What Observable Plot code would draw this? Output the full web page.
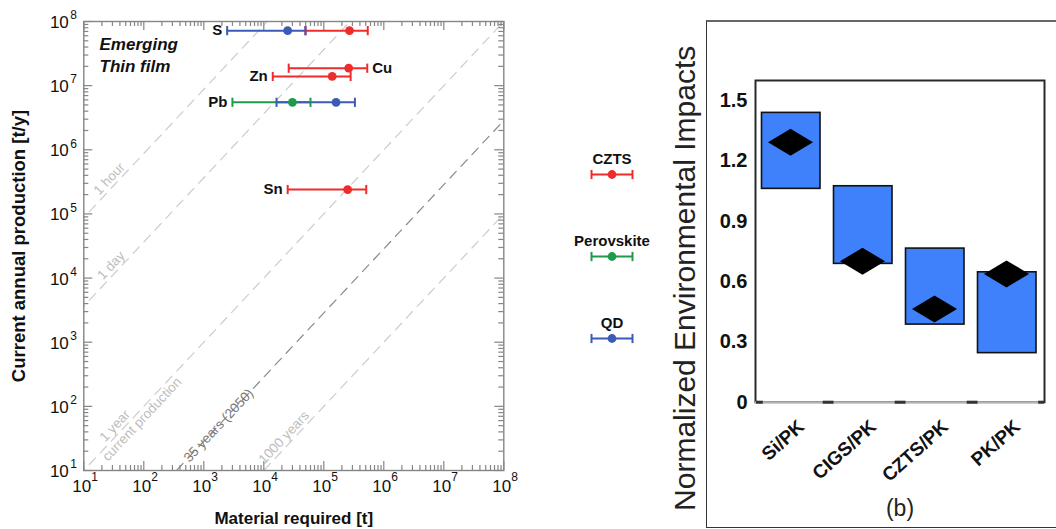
<!DOCTYPE html>
<html><head><meta charset="utf-8">
<script src="https://cdn.jsdelivr.net/npm/d3@7"></script>
<script src="https://cdn.jsdelivr.net/npm/@observablehq/plot@0.6"></script>
<style>
html,body{margin:0;padding:0;background:#fff;}
#wrap{position:relative;width:1056px;height:529px;overflow:hidden;background:#fff;font-family:"Liberation Sans",Arial,sans-serif;}
#left,#legend,#right{position:absolute;}
#left{left:0;top:0;width:540px;height:529px;}
#legend{left:562px;top:130px;width:100px;height:250px;}
#right{left:660px;top:0;width:396px;height:529px;}
#outer{position:absolute;left:706px;top:20px;width:400px;height:505px;border-left:1.5px solid #333;border-top:2px solid #666;border-bottom:1.5px solid #333;}
#right g[aria-label="ytick"] text{letter-spacing:3.5px;}
svg{overflow:visible;max-width:none !important;}
</style></head><body>
<div id="wrap"><div id="outer"></div><div id="left"></div><div id="legend"></div><div id="right"></div></div>
<script>
// ---------- Data: left panel ----------
const techs = ["CZTS", "Perovskite", "QD"];
const techColors = ["#ee2c2c", "#1f9a4b", "#3b5bb6"];

const barElement    = ["Pb", "S", "Pb", "S", "Cu", "Zn", "Sn"];
const barTech       = ["Perovskite", "QD", "QD", "CZTS", "CZTS", "CZTS", "CZTS"];
const barProduction = [5.5e6, 7.2e7, 5.5e6, 7.2e7, 1.87e7, 1.39e7, 2.4e5];
const barLow        = [3.0e3, 2.45e3, 1.63e4, 4.95e4, 2.6e4, 1.41e4, 2.5e4];
const barMid        = [3.0e4, 2.5e4, 1.6e5, 2.68e5, 2.6e5, 1.38e5, 2.5e5];
const barHigh       = [6.0e4, 4.95e4, 3.3e5, 5.4e5, 5.3e5, 2.8e5, 5.1e5];

const labelElement = ["S", "Cu", "Zn", "Pb", "Sn"];

const periodLabel = ["1 hour", "1 day", "1 year", "35 years (2050)", "1000 years"];
const periodYears = [1 / 8760, 1 / 365, 1, 35, 1000];

const guideText   = ["1 hour", "1 day", "1 year", "current production", "35 years (2050)", "1000 years"];
const guidePeriod = [1 / 8760, 1 / 365, 1, 1, 35, 1000];
const guideAt     = [20, 23, 25, 18.2, 1760, 11200];

const decadeExp = [1, 2, 3, 4, 5, 6, 7, 8];

// ---------- Data: right panel ----------
const pairs = ["Si/PK", "CIGS/PK", "CZTS/PK", "PK/PK"];
const boxLow = [1.061, 0.688, 0.386, 0.244];
const boxHigh = [1.439, 1.074, 0.764, 0.646];
const diamondValue = [1.293, 0.701, 0.464, 0.638];
const yTicks = [0, 0.3, 0.6, 0.9, 1.2, 1.5];
const yTickLabels = ["0", "0.3", "0.6", "0.9", "1.2", "1.5"];

// ---------- Build ----------
const font = '"Liberation Sans", Arial, Helvetica, sans-serif';
const bars = barElement.map((el, i) => ({el, tech: barTech[i], prod: barProduction[i], lo: barLow[i], mid: barMid[i], hi: barHigh[i]}));
const labels = labelElement.map(el => {
  const rows = bars.filter(b => b.el === el);
  return {el, prod: rows[0].prod, lo: d3.min(rows, r => r.lo), hi: d3.max(rows, r => r.hi)};
});
const rightSide = new Set(["Cu"]);
const majorTicks = decadeExp.map(e => 10 ** e);
const minorTicks = decadeExp.slice(0, -1).flatMap(e => [2,3,4,5,6,7,8,9].map(m => m * 10 ** e));
const guideLines = periodLabel.flatMap((lab, i) => [
  {lab, x: 1, y: 1 / periodYears[i]},
  {lab, x: 1e9, y: 1e9 / periodYears[i]}
]);
const guides = guideText.map((t, i) => ({t, x: guideAt[i], y: guideAt[i] / guidePeriod[i]}));

const capSymbol = {draw(ctx, size) { const r = Math.sqrt(size / Math.PI); ctx.moveTo(0, -r); ctx.lineTo(0, r); }};
const flatDiamond = {draw(ctx, size) { const r = Math.sqrt(size / Math.PI); const h = r * 0.6; ctx.moveTo(-r, 0); ctx.lineTo(0, -h); ctx.lineTo(r, 0); ctx.lineTo(0, h); ctx.closePath(); }};

const W = 540, H = 529, mL = 83.3, mR = 36.7, mT = 21, mB = 59;
const pw = W - mL - mR, ph = H - mT - mB;
const frameCol = "#858585";
const ang = -46.9;
const light = "#cccccc", dark = "#8a8a8a";

const left = Plot.plot({
  width: W, height: H, marginLeft: mL, marginRight: mR, marginTop: mT, marginBottom: mB,
  style: {background: "transparent", fontFamily: font, color: "#111"},
  x: {type: "log", domain: [10, 1e8], axis: null},
  y: {type: "log", domain: [10, 1e8], axis: null},
  color: {domain: techs, range: techColors},
  marks: [
    // guide lines
    Plot.line(guideLines.filter(d => d.lab !== "35 years (2050)"), {x: "x", y: "y", z: "lab", stroke: light, strokeWidth: 1.2, strokeDasharray: "9,7", clip: true}),
    Plot.line(guideLines.filter(d => d.lab === "35 years (2050)"), {x: "x", y: "y", z: "lab", stroke: dark, strokeWidth: 1.2, strokeDasharray: "9,7", clip: true}),
    Plot.text(guides.filter(d => ["1 hour", "1 day", "1 year", "1000 years"].includes(d.t)), {x: "x", y: "y", text: "t", rotate: ang, textAnchor: "start", lineAnchor: "bottom", dx: -2.5, dy: -2.5, fill: "#bdbdbd", fontSize: 13.5}),
    Plot.text(guides.filter(d => d.t === "current production"), {x: "x", y: "y", text: "t", rotate: ang, textAnchor: "start", lineAnchor: "top", dx: 1.5, dy: 1.5, fill: "#bdbdbd", fontSize: 13.5}),
    Plot.text(guides.filter(d => d.t === "35 years (2050)"), {x: "x", y: "y", text: "t", rotate: ang, textAnchor: "middle", lineAnchor: "middle", fill: "#7a7a7a", fontSize: 13.5}),
    // frame and ticks
    Plot.frame({stroke: frameCol, strokeWidth: 1.4}),
    Plot.tickX(majorTicks, {x: d => d, insetTop: ph - 9, stroke: frameCol, strokeWidth: 1.2}),
    Plot.tickX(majorTicks, {x: d => d, insetBottom: ph - 9, stroke: frameCol, strokeWidth: 1.2}),
    Plot.tickX(minorTicks, {x: d => d, insetTop: ph - 5, stroke: frameCol, strokeWidth: 1.2}),
    Plot.tickX(minorTicks, {x: d => d, insetBottom: ph - 5, stroke: frameCol, strokeWidth: 1.2}),
    Plot.tickY(majorTicks, {y: d => d, insetRight: pw - 9, stroke: frameCol, strokeWidth: 1.2}),
    Plot.tickY(majorTicks, {y: d => d, insetLeft: pw - 9, stroke: frameCol, strokeWidth: 1.2}),
    Plot.tickY(minorTicks, {y: d => d, insetRight: pw - 5, stroke: frameCol, strokeWidth: 1.2}),
    Plot.tickY(minorTicks, {y: d => d, insetLeft: pw - 5, stroke: frameCol, strokeWidth: 1.2}),
    // tick labels
    Plot.text(majorTicks, {x: d => d, frameAnchor: "bottom", text: () => "10", textAnchor: "middle", lineAnchor: "middle", dx: -2, dy: 16, fontSize: 17, fill: "#111"}),
    Plot.text(majorTicks, {x: d => d, frameAnchor: "bottom", text: d => String(Math.round(Math.log10(d))), textAnchor: "start", lineAnchor: "middle", dx: 7.5, dy: 7, fontSize: 12, fill: "#111"}),
    Plot.text(majorTicks, {y: d => d, frameAnchor: "left", text: () => "10", textAnchor: "end", lineAnchor: "middle", dx: -15, dy: 1, fontSize: 17, fill: "#111"}),
    Plot.text(majorTicks, {y: d => d, frameAnchor: "left", text: d => String(Math.round(Math.log10(d))), textAnchor: "start", lineAnchor: "middle", dx: -13.5, dy: -6, fontSize: 12, fill: "#111"}),
    // axis titles
    Plot.text(["Material required [t]"], {frameAnchor: "bottom", textAnchor: "middle", lineAnchor: "middle", dy: 48.5, fontSize: 17, fontWeight: "bold", fill: "#111"}),
    Plot.text(["Current annual production [t/y]"], {frameAnchor: "left", textAnchor: "middle", lineAnchor: "middle", dx: -64.3, rotate: -90, fontSize: 18.5, fontWeight: "bold", fill: "#111"}),
    Plot.text(["Emerging\nThin film"], {frameAnchor: "top-left", textAnchor: "start", dx: 15.7, dy: 12.5, lineAnchor: "top", lineHeight: 1.3, fontSize: 17, fontWeight: "bold", fontStyle: "italic", fill: "#111"}),
    // error bars
    Plot.ruleY(bars, {y: "prod", x1: "lo", x2: "hi", stroke: "tech", strokeWidth: 2}),
    Plot.dot(bars, {x: "lo", y: "prod", symbol: capSymbol, r: 4.6, stroke: "tech", fill: "none", strokeWidth: 2}),
    Plot.dot(bars, {x: "hi", y: "prod", symbol: capSymbol, r: 4.6, stroke: "tech", fill: "none", strokeWidth: 2}),
    Plot.dot(bars, {x: "mid", y: "prod", r: 4.4, fill: "tech", stroke: null}),
    // element labels
    Plot.text(labels.filter(d => !rightSide.has(d.el)), {x: "lo", y: "prod", text: "el", textAnchor: "end", dx: -5, fontSize: 15, fontWeight: "bold", fill: "#111"}),
    Plot.text(labels.filter(d => rightSide.has(d.el)), {x: "hi", y: "prod", text: "el", textAnchor: "start", dx: 5, fontSize: 15, fontWeight: "bold", fill: "#111"})
  ]
});
document.getElementById("left").appendChild(left);

// ---------- Legend ----------
const legend = Plot.plot({
  width: 100, height: 250, marginLeft: 0, marginRight: 0, marginTop: 0, marginBottom: 0,
  style: {background: "transparent", fontFamily: font, color: "#111"},
  x: {domain: [-1, 1], range: [29, 70], axis: null},
  y: {type: "point", domain: techs, range: [42.7, 208.3], padding: 0, axis: null},
  color: {domain: techs, range: techColors},
  marks: [
    Plot.ruleY(techs, {y: d => d, x1: -1, x2: 1, stroke: d => d, strokeWidth: 2}),
    Plot.dot(techs, {x: -1, y: d => d, symbol: capSymbol, r: 4.6, stroke: d => d, fill: "none", strokeWidth: 2}),
    Plot.dot(techs, {x: 1, y: d => d, symbol: capSymbol, r: 4.6, stroke: d => d, fill: "none", strokeWidth: 2}),
    Plot.dot(techs, {x: 0, y: d => d, r: 4.4, fill: d => d, stroke: null}),
    Plot.text(techs, {x: 0, y: d => d, text: d => d, dy: -15, fontSize: 15, fontWeight: "bold", fill: "#111"})
  ]
});
document.getElementById("legend").appendChild(legend);

// ---------- Right panel ----------
const RW = 396, RH = 529;
const right = Plot.plot({
  width: RW, height: RH, marginLeft: 95, marginRight: 12, marginTop: 80, marginBottom: 127.3,
  style: {background: "transparent", fontFamily: font, color: "#111"},
  x: {type: "band", domain: pairs, padding: 0, axis: null},
  y: {domain: [0, 1.6], axis: null},
  marks: [
    Plot.barY(pairs, {x: pairs, y1: boxLow, y2: boxHigh, fill: "#3f80fb", stroke: "#111", strokeWidth: 1.6, insetLeft: 5.5, insetRight: 8}),
    Plot.dot(pairs, {x: pairs, y: diamondValue, symbol: flatDiamond, r: 22.5, fill: "#000", stroke: null, dx: -2}),
    Plot.frame({stroke: "#2a2a2a", strokeWidth: 2}),
    Plot.ruleY([0], {stroke: "#b4b4b4", strokeWidth: 2}),
    Plot.tickY(pairs.slice(0, 3), {x: d => d, y: 0, dx: 36.1, insetLeft: 30.6, insetRight: 30.6, stroke: "#333", strokeWidth: 3}),
    Plot.tickY(pairs.slice(0, 1), {x: d => d, y: 0, dx: -36.1, insetLeft: 36.1, insetRight: 29.1, stroke: "#333", strokeWidth: 3}),
    Plot.tickY(pairs.slice(3), {x: d => d, y: 0, dx: 36.1, insetLeft: 30.1, insetRight: 36.1, stroke: "#333", strokeWidth: 3}),
    Plot.text(yTicks, {y: d => d, frameAnchor: "left", text: (d, i) => yTickLabels[i], textAnchor: "end", lineAnchor: "middle", dx: -8, fontSize: 20, fontWeight: "bold", fill: "#111", ariaLabel: "ytick"}),
    Plot.text(pairs, {x: d => d, frameAnchor: "bottom", text: d => d, rotate: -42, textAnchor: "end", lineAnchor: "top", dx: 4, dy: 16, fontSize: 19, fontWeight: "bold", fill: "#111"}),
    Plot.text(["(b)"], {frameAnchor: "bottom", textAnchor: "middle", lineAnchor: "middle", dy: 106, fontSize: 23, fill: "#222"}),
    Plot.text(["Normalized Environmental Impacts"], {frameAnchor: "left", textAnchor: "middle", lineAnchor: "middle", dx: -70, dy: 37, rotate: -90, fontSize: 30, fill: "#222"})
  ]
});
document.getElementById("right").appendChild(right);
</script></body></html>
